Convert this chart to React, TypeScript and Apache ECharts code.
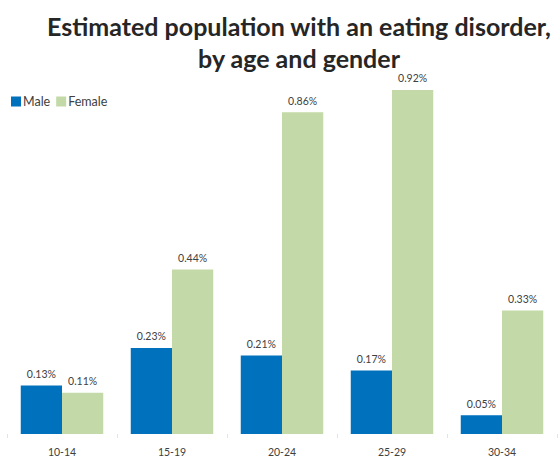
import React, { useEffect, useRef } from "react";
import * as echarts from "echarts";

const categories = ["10-14", "15-19", "20-24", "25-29", "30-34"];
const maleValues = [0.13, 0.23, 0.21, 0.17, 0.05];
const femaleValues = [0.11, 0.44, 0.86, 0.92, 0.33];
const titleText = "Estimated population with an eating disorder,\nby age and gender";

export default function App() {
  const ref = useRef<HTMLDivElement>(null);
  useEffect(() => {
    if (!ref.current) return;
    const chart = echarts.init(ref.current, null, { renderer: "svg" });
    const labelStyle = {
      show: true,
      position: "top" as const,
      distance: 6,
      formatter: (p: any) => p.value.toFixed(2) + "%",
      fontFamily: "Lato",
      fontSize: 10.5,
      color: "#404040",
    };
    chart.setOption({
      animation: false,
      backgroundColor: "#ffffff",
      title: {
        text: titleText,
        left: 294,
        top: 5,
        textAlign: "center",
        textStyle: {
          fontFamily: "Lato",
          fontWeight: "bold",
          fontSize: 25,
          lineHeight: 32,
          color: "#262626",
        },
      },
      legend: {
        left: 6,
        top: 90,
        itemWidth: 10,
        itemHeight: 10,
        itemGap: 6,
        icon: "rect",
        textStyle: { fontFamily: "Lato", fontSize: 12.5, color: "#404040", padding: [0, 0, 0, -3] },
        data: ["Male", "Female"],
      },
      grid: { left: 7, right: 1, top: 60, bottom: 23, containLabel: false },
      xAxis: {
        type: "category",
        data: categories,
        axisLine: { show: false },
        axisTick: { show: true, length: 4, lineStyle: { color: "#e4e4e4" } },
        axisLabel: { fontFamily: "Lato", fontSize: 10.5, color: "#404040", margin: 12 },
      },
      yAxis: {
        type: "value",
        min: 0,
        max: 1,
        show: false,
        splitLine: { show: false },
      },
      series: [
        {
          name: "Male",
          type: "bar",
          data: maleValues,
          barGap: "0%",
          barCategoryGap: "25%",
          itemStyle: { color: "#0071BC" },
          label: labelStyle,
        },
        {
          name: "Female",
          type: "bar",
          data: femaleValues,
          barGap: "0%",
          barCategoryGap: "25%",
          itemStyle: { color: "#C3D9A7" },
          label: labelStyle,
        },
      ],
    });
    return () => chart.dispose();
  }, []);
  return <div ref={ref} style={{ position: "absolute", left: 0, top: 0, width: 558, height: 457 }} />;
}
